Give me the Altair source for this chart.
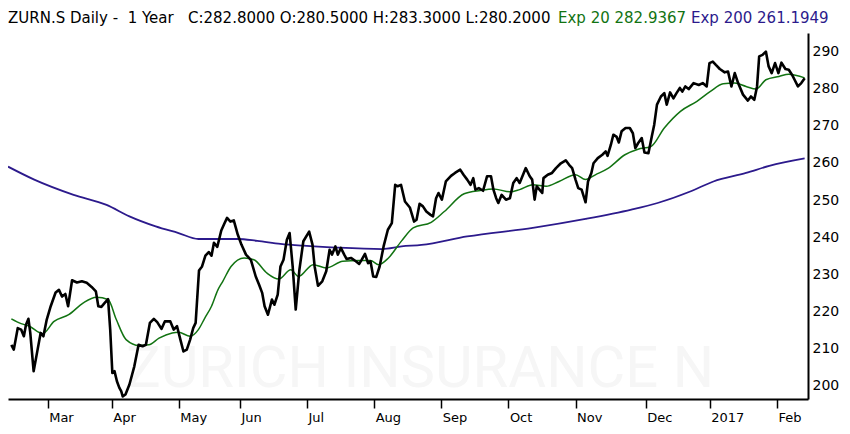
import altair as alt
import pandas as pd

# ---- data (trading-day index, price) ----
CLOSE_DAY = [1.1, 1.9, 3.2, 4.3, 5.2, 5.9, 6.7, 7.3, 8.4, 9.7, 10.7, 11.6, 12.7, 14.0, 15.6, 16.7, 17.7, 18.8,
             19.7, 21.0, 22.6, 24.2, 25.8, 27.4, 28.8, 29.6, 30.6, 31.7, 32.8, 33.5, 34.2, 34.9, 35.7, 36.5,
             37.1, 37.6, 38.5, 39.8, 41.4, 42.8, 44.1, 45.2, 46.5, 47.8, 48.9, 50.3, 51.4, 53.2, 54.3, 55.4,
             56.5, 57.5, 58.6, 59.7, 60.7, 61.5, 62.6, 63.6, 64.7, 65.8, 66.7, 67.5, 68.6, 69.9, 71.0, 71.8,
             72.9, 74.0, 75.3, 76.5, 78.0, 79.6, 81.2, 82.3, 83.3, 84.1, 85.2, 86.5, 87.3, 88.4, 89.3, 90.3,
             91.4, 92.3, 93.3, 94.3, 95.5, 96.8, 98.7, 99.8, 100.5, 101.6, 103.0, 104.3, 105.4, 106.2, 107.3,
             108.1, 109.1, 110.2, 111.0, 112.4, 114.0, 115.1, 115.9, 117.0, 118.0, 118.8, 119.7, 120.7, 121.8,
             123.1, 124.5, 125.8, 126.9, 127.7, 128.8, 130.1, 131.7, 133.1, 133.9, 134.9, 136.0, 137.1, 138.5,
             139.3, 140.3, 141.1, 142.2, 143.5, 145.2, 146.5, 148.2, 149.3, 150.5, 151.6, 152.5, 153.2, 154.3,
             155.7, 157.0, 158.3, 159.1, 160.0, 160.7, 161.8, 163.2, 164.5, 165.6, 166.7, 167.7, 169.7, 171.0,
             171.8, 172.6, 173.3, 174.2, 175.1, 175.5, 176.9, 178.3, 179.6, 181.2, 182.8, 183.9, 184.9, 186.0,
             186.9, 188.0, 189.3, 190.1, 191.2, 191.9, 193.3, 194.8, 195.9, 196.5, 197.6, 198.4, 199.5, 200.2,
             201.1, 202.4, 203.8, 204.8, 205.6, 206.5, 207.7, 208.6, 209.9, 211.0, 211.8, 212.7, 214.0, 215.1,
             215.9, 217.0, 218.1, 219.1, 220.2, 221.0, 222.0, 223.1, 224.7, 226.4, 227.7, 229.0, 229.9, 231.0,
             232.0, 233.3, 234.9, 236.0, 237.1, 238.2, 239.3, 240.9, 242.5, 243.5, 244.6, 245.5, 246.2, 247.3,
             248.4, 249.3, 250.3, 251.4, 252.5, 253.5, 254.8, 255.9, 257.0, 257.8, 258.9, 260.0, 261.1]
CLOSE_VAL = [211.0, 209.7, 215.5, 215.1, 213.3, 216.4, 218.0, 214.2, 203.9, 209.7, 214.2, 213.3, 217.8, 221.4,
             225.1, 225.8, 224.0, 224.7, 221.4, 228.4, 227.8, 228.1, 227.7, 226.6, 225.4, 221.4, 221.2, 222.3,
             223.3, 215.1, 203.4, 203.9, 201.2, 199.4, 198.5, 197.1, 197.6, 200.3, 205.2, 211.0, 210.6, 211.0,
             216.9, 218.0, 217.1, 215.3, 217.3, 217.3, 215.1, 216.0, 212.4, 209.2, 209.7, 212.4, 215.5, 216.9,
             231.0, 232.1, 235.0, 236.0, 235.0, 238.5, 237.4, 241.8, 243.8, 245.2, 244.2, 244.5, 240.7, 238.0,
             235.3, 233.9, 229.4, 227.2, 225.0, 221.4, 219.1, 223.2, 221.8, 224.5, 232.1, 233.9, 239.3, 241.1,
             232.1, 220.5, 231.2, 238.9, 241.5, 238.0, 232.1, 226.9, 228.1, 230.8, 236.6, 235.3, 237.5, 235.3,
             237.1, 235.3, 234.1, 234.4, 233.5, 232.8, 233.9, 235.5, 233.0, 233.5, 229.4, 229.3, 232.1, 237.5,
             242.0, 243.8, 254.1, 253.7, 254.1, 249.6, 248.0, 244.2, 244.7, 249.0, 248.3, 246.9, 246.0, 245.6,
             250.5, 251.9, 250.1, 255.0, 256.5, 257.3, 258.2, 256.8, 255.5, 254.1, 255.9, 252.8, 253.2, 252.5,
             256.4, 256.4, 252.8, 250.5, 249.2, 251.4, 250.1, 250.5, 254.6, 255.9, 254.6, 258.6, 256.4, 255.5,
             250.1, 253.7, 252.8, 251.9, 255.9, 256.8, 257.3, 258.6, 259.9, 260.7, 259.5, 258.6, 255.5, 253.2,
             252.8, 249.4, 255.0, 257.3, 259.9, 261.3, 262.2, 263.1, 261.9, 264.9, 267.6, 267.0, 265.5, 268.5,
             269.4, 269.4, 268.0, 264.0, 265.3, 266.7, 262.8, 262.6, 267.1, 270.3, 275.7, 277.9, 278.8, 275.7,
             279.0, 277.4, 278.8, 280.2, 279.2, 280.6, 279.9, 281.5, 281.0, 281.5, 280.6, 286.9, 287.3, 286.4,
             285.3, 284.4, 284.6, 280.6, 284.2, 281.5, 278.4, 276.8, 277.9, 277.0, 280.6, 288.7, 289.1, 290.0,
             286.0, 284.2, 286.9, 284.2, 287.0, 285.3, 285.1, 283.7, 282.4, 280.6, 281.5, 282.8]

EMA20_DAY = [1.1, 4.3, 7.0, 11.3, 15.1, 19.9, 24.7, 29.0, 32.8, 35.5, 38.7, 43.0, 46.2, 49.5, 53.8, 55.9, 59.7,
             62.4, 64.5, 66.7, 68.8, 70.4, 73.1, 77.4, 80.6, 84.9, 88.7, 92.7, 95.2, 100.0, 104.3, 109.7, 115.1,
             118.8, 121.5, 124.7, 129.0, 132.8, 138.7, 143.0, 149.5, 154.8, 159.1, 164.5, 167.7, 172.0, 176.4,
             180.6, 186.0, 189.3, 192.5, 196.8, 202.2, 206.5, 210.7, 215.1, 220.4, 225.8, 230.1, 234.4, 238.2,
             241.9, 245.2, 248.4, 252.7, 255.9, 261.1]
EMA20_VAL = [218.0, 216.7, 216.0, 214.0, 217.3, 219.1, 222.3, 223.8, 223.2, 217.8, 212.4, 210.8, 211.0, 212.8,
             214.2, 214.4, 213.3, 215.1, 218.2, 221.4, 225.8, 228.1, 232.1, 234.4, 233.9, 230.3, 228.7, 231.2,
             229.4, 232.6, 231.7, 233.5, 233.7, 233.7, 232.6, 234.4, 239.0, 242.5, 244.0, 246.9, 251.7, 252.6,
             253.0, 252.2, 252.8, 254.1, 253.7, 255.0, 256.8, 255.5, 256.8, 258.6, 262.2, 263.7, 264.4, 269.4,
             273.9, 276.6, 279.2, 281.3, 281.5, 280.6, 279.9, 282.4, 283.3, 283.9, 282.9]

EMA200_DAY = [0.0, 8.6, 21.5, 32.3, 39.8, 48.4, 55.9, 62.4, 75.3, 81.7, 89.3, 96.8, 107.5, 122.6, 129.0, 135.5,
              150.5, 172.0, 189.3, 204.3, 212.9, 223.6, 231.2, 241.9, 249.5, 261.1]
EMA200_VAL = [259.0, 255.5, 251.4, 248.7, 245.6, 242.9, 241.1, 239.5, 239.5, 239.0, 238.2, 237.7, 237.2, 236.8,
              237.5, 237.9, 240.2, 242.5, 244.9, 247.4, 249.2, 252.3, 255.0, 257.3, 259.2, 261.2]

MONTH_TICKS = [13, 34, 56, 76, 98, 120, 142, 164, 186, 209, 230, 252]
MONTH_LABELS = ["Mar", "Apr", "May", "Jun", "Jul", "Aug", "Sep", "Oct", "Nov", "Dec", "2017", "Feb"]
PRICE_TICKS = [200, 210, 220, 230, 240, 250, 260, 270, 280, 290]

NB = "\u00a0"  # non-breaking space keeps the wide gaps of the header
TITLE_MAIN = ("ZURN.S Daily -" + NB * 2 + "1 Year" + NB * 3 +
              "C:282.8000 O:280.5000 H:283.3000 L:280.2000")
TITLE_EMA20 = "Exp 20 282.9367"
TITLE_EMA200 = "Exp 200 261.1949"
WATERMARK = "ZURICH INSURANCE N"

FONT = "DejaVu Sans"
GREEN = "#127312"
PURPLE = "#2c1a8c"

close_df = pd.DataFrame({"day": CLOSE_DAY, "val": CLOSE_VAL})
ema20_df = pd.DataFrame({"day": EMA20_DAY, "val": EMA20_VAL})
ema200_df = pd.DataFrame({"day": EMA200_DAY, "val": EMA200_VAL})

label_expr = "[{}][indexof([{}], datum.value)]".format(
    ",".join("'%s'" % m for m in MONTH_LABELS), ",".join(str(t) for t in MONTH_TICKS))

x_enc = alt.X("day:Q",
              scale=alt.Scale(domain=[0, 262.2], nice=False, zero=False),
              axis=alt.Axis(values=MONTH_TICKS, labelExpr=label_expr, title=None, grid=False,
                            orient="bottom", labelAlign="left", labelOffset=1, tickSize=9, tickWidth=1.5,
                            tickColor="black", domainColor="black", domainWidth=2,
                            labelFontSize=13, labelFont=FONT, labelColor="black", labelPadding=3,
                            labelFlush=False, labelOverlap=False))
y_enc = alt.Y("val:Q",
              scale=alt.Scale(domain=[196.4, 295], nice=False, zero=False),
              axis=alt.Axis(values=PRICE_TICKS, orient="right", title=None, grid=False, ticks=False,
                            domainColor="black", domainWidth=2, labelPadding=4, labelFontSize=14,
                            labelFont=FONT, labelColor="black", labelFlush=False, labelOverlap=False))

watermark = alt.Chart(pd.DataFrame({"t": [WATERMARK]})).mark_text(
    font="Roboto", fontSize=58, color="#f6f6f6", align="center", baseline="alphabetic"
).encode(x=alt.value(412), y=alt.value(354), text="t:N")

ema200 = alt.Chart(ema200_df).mark_line(color=PURPLE, strokeWidth=1.8, interpolate="monotone").encode(
    x=x_enc, y=y_enc)
ema20 = alt.Chart(ema20_df).mark_line(color=GREEN, strokeWidth=1.5, interpolate="monotone").encode(
    x=x_enc, y=y_enc)
close = alt.Chart(close_df).mark_line(color="black", strokeWidth=2.6, strokeJoin="round").encode(
    x=x_enc, y=y_enc)

t1 = alt.Chart(pd.DataFrame({"t": [TITLE_MAIN]})).mark_text(
    font=FONT, fontSize=15, color="black", align="left", baseline="middle"
).encode(x=alt.value(0), y=alt.value(-15), text="t:N")
t2 = alt.Chart(pd.DataFrame({"t": [TITLE_EMA20]})).mark_text(
    font=FONT, fontSize=15, color=GREEN, align="left", baseline="middle"
).encode(x=alt.value(550), y=alt.value(-15), text="t:N")
t3 = alt.Chart(pd.DataFrame({"t": [TITLE_EMA200]})).mark_text(
    font=FONT, fontSize=15, color=PURPLE, align="left", baseline="middle"
).encode(x=alt.value(683), y=alt.value(-15), text="t:N")

chart = alt.layer(watermark, ema200, ema20, close, t1, t2, t3).properties(
    width=800, height=366,
    autosize=alt.AutoSizeParams(type="none"),
    padding={"left": 0, "top": 25, "right": 32, "bottom": 27},
    background="white",
).configure_view(strokeWidth=0)

chart.save("out.html", embed_options={"renderer": "svg", "actions": False})
